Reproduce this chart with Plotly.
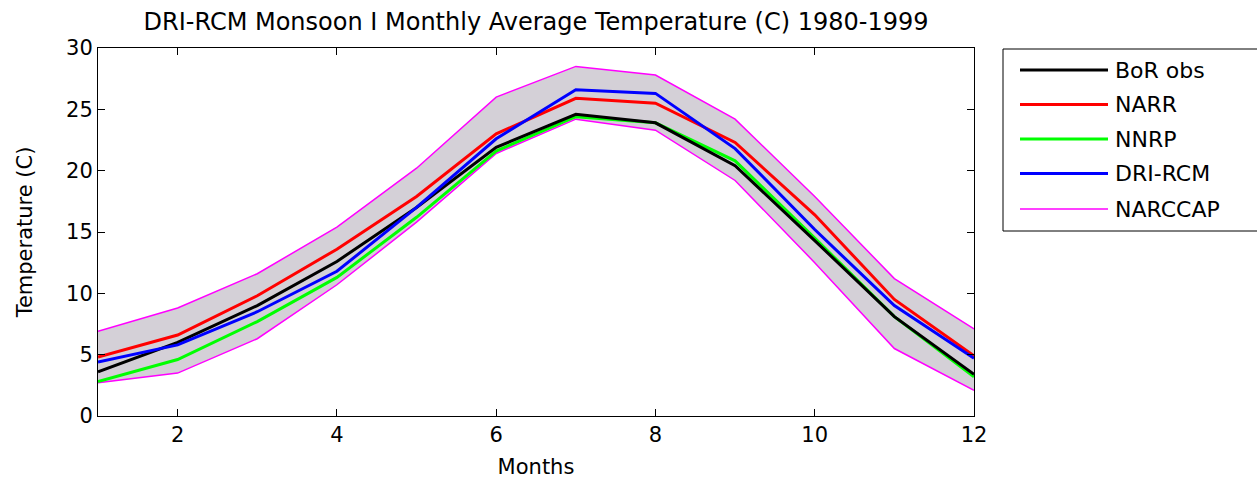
import plotly.graph_objects as go

months = [1, 2, 3, 4, 5, 6, 7, 8, 9, 10, 11, 12]
bor_obs = [3.6, 6.0, 9.0, 12.6, 17.0, 21.9, 24.6, 23.9, 20.4, 14.3, 8.1, 3.4]
narr = [4.8, 6.6, 9.8, 13.6, 17.9, 23.0, 25.9, 25.5, 22.3, 16.4, 9.5, 4.9]
nnrp = [2.8, 4.6, 7.7, 11.3, 16.2, 21.6, 24.4, 23.9, 20.8, 14.5, 8.1, 3.2]
dri_rcm = [4.4, 5.8, 8.5, 11.8, 17.0, 22.6, 26.6, 26.3, 21.8, 15.2, 9.0, 4.7]
narccap_upper = [6.9, 8.8, 11.6, 15.4, 20.2, 26.0, 28.5, 27.8, 24.2, 17.9, 11.2, 7.1]
narccap_lower = [2.7, 3.5, 6.3, 10.7, 15.8, 21.4, 24.2, 23.3, 19.2, 12.5, 5.5, 2.1]

legend_names = ["BoR obs", "NARR", "NNRP", "DRI-RCM", "NARCCAP"]
legend_colors = ["#000000", "#ff0000", "#00ff00", "#0000ff", "#ff00ff"]
legend_widths = [3, 3, 3, 3, 1.5]

FONT = "DejaVu Sans, Liberation Sans, Arial, sans-serif"

fig = go.Figure()
fig.add_trace(go.Scatter(x=months, y=narccap_lower, mode="lines",
                         line=dict(color="#ff00ff", width=1.5), showlegend=False))
fig.add_trace(go.Scatter(x=months, y=narccap_upper, mode="lines", fill="tonexty",
                         fillcolor="rgb(212,208,215)",
                         line=dict(color="#ff00ff", width=1.5), showlegend=False))
fig.add_trace(go.Scatter(x=months, y=nnrp, mode="lines",
                         line=dict(color="#00ff00", width=3), showlegend=False))
fig.add_trace(go.Scatter(x=months, y=bor_obs, mode="lines",
                         line=dict(color="#000000", width=3), showlegend=False))
fig.add_trace(go.Scatter(x=months, y=narr, mode="lines",
                         line=dict(color="#ff0000", width=3), showlegend=False))
fig.add_trace(go.Scatter(x=months, y=dri_rcm, mode="lines",
                         line=dict(color="#0000ff", width=3), showlegend=False))

L, R, T, B = 98, 974, 48, 416
W, H = 1257, 482
pw, ph = R - L, B - T

def px(p):
    return (p - L) / pw

def py(q):
    return (B - q) / ph

shapes = [dict(type="rect", xref="paper", yref="paper",
               x0=px(1003), x1=px(1265), y0=py(231), y1=py(49),
               line=dict(color="black", width=1), fillcolor="white", layer="above")]
annotations = []
row_y = [70, 104.5, 139, 173.5, 209]
for name, col, wdt, yy in zip(legend_names, legend_colors, legend_widths, row_y):
    shapes.append(dict(type="line", xref="paper", yref="paper",
                       x0=px(1020), x1=px(1108), y0=py(yy), y1=py(yy),
                       line=dict(color=col, width=wdt), layer="above"))
    annotations.append(dict(xref="paper", yref="paper", x=px(1113), y=py(yy),
                            text=name, showarrow=False, xanchor="left", yanchor="middle",
                            font=dict(family=FONT, size=22, color="black")))

fig.update_layout(
    width=W, height=H,
    margin=dict(l=L, r=W - R, t=T, b=H - B, pad=0, autoexpand=False),
    paper_bgcolor="white", plot_bgcolor="white",
    font=dict(family=FONT, size=21, color="black"),
    title=dict(text="DRI-RCM Monsoon I Monthly Average Temperature (C) 1980-1999",
               x=0.5, xref="paper", xanchor="center", y=1 - 22 / H, yanchor="middle",
               font=dict(family=FONT, size=24, color="black")),
    shapes=shapes, annotations=annotations,
)
fig.update_xaxes(range=[1, 12], tickvals=[2, 4, 6, 8, 10, 12], ticks="inside", ticklen=7,
                 tickcolor="black", showline=True, linecolor="black", linewidth=1,
                 mirror="ticks", showgrid=False, zeroline=False, automargin=False,
                 title=dict(text="Months", standoff=13, font=dict(family=FONT, size=21)),
                 tickfont=dict(family=FONT, size=21))
fig.update_yaxes(range=[0, 30], tickvals=[0, 5, 10, 15, 20, 25, 30], ticks="inside", ticklen=7,
                 tickcolor="black", showline=True, linecolor="black", linewidth=1,
                 mirror="ticks", showgrid=False, zeroline=False, automargin=False,
                 title=dict(text="Temperature (C)", standoff=27, font=dict(family=FONT, size=21)),
                 tickfont=dict(family=FONT, size=21))

fig.write_html("out.html")
